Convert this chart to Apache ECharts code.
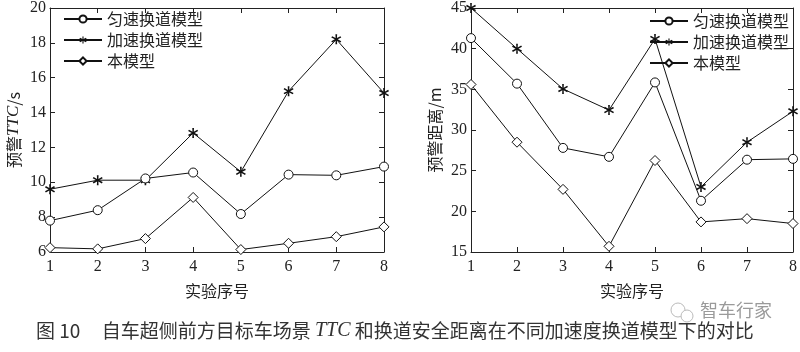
<!DOCTYPE html>
<html>
<head>
<meta charset="utf-8">
<script src="https://cdn.jsdelivr.net/npm/echarts@6/dist/echarts.min.js"></script>
<style>
  html, body { margin: 0; padding: 0; background: #fff; }
  #main { width: 800px; height: 352px; }
</style>
</head>
<body>
<div id="main"></div>
<script>
// 实验序号
const runs = [1, 2, 3, 4, 5, 6, 7, 8];
const seriesNames = ['匀速换道模型', '加速换道模型', '本模型'];

// 左图：预警 TTC / s
const ttcUniform = [7.8, 8.4, 10.22, 10.56, 8.18, 10.44, 10.4, 10.9];
const ttcAccel = [9.6, 10.12, 10.12, 12.83, 10.6, 15.23, 18.2, 15.12];
const ttcOurs = [6.25, 6.18, 6.77, 9.13, 6.14, 6.5, 6.88, 7.44];

// 右图：预警距离 / m
const distUniform = [41.3, 35.7, 27.8, 26.7, 35.85, 21.3, 26.35, 26.45];
const distAccel = [45, 40, 35.05, 32.45, 41.2, 23.0, 28.5, 32.3];
const distOurs = [35.6, 28.5, 22.7, 15.7, 26.25, 18.7, 19.1, 18.5];

const SERIF = "'Liberation Serif', 'Noto Sans CJK SC', serif";
const CJK = "'Noto Sans CJK SC', 'Liberation Serif', serif";
// 星号标记（粗一点的六臂星）
const STAR = 'path://M8.6,0 L11.4,0 L11.1,6.6 L16.8,3.1 L18.2,5.5 L12.4,8.8 L18.2,12.1 L16.8,14.5 L11.1,11 L11.4,17.6 L8.6,17.6 L8.9,11 L3.2,14.5 L1.8,12.1 L7.6,8.8 L1.8,5.5 L3.2,3.1 L8.9,6.6 Z';
const symbols = ['circle', STAR, 'diamond'];
const symbolSizes = [9, 10, 10];
const itemStyles = [
  { color: '#fff', borderColor: '#111', borderWidth: 1 },
  { color: '#111', borderWidth: 0 },
  { color: '#fff', borderColor: '#111', borderWidth: 1 }
];

const chart = echarts.init(document.getElementById('main'));

function xAxes(gridIndex) {
  const base = {
    type: 'value', gridIndex, min: 1, max: 8, interval: 1,
    axisLine: { show: true, lineStyle: { color: '#222', width: 1 } },
    axisTick: { show: true, inside: true, length: 5, lineStyle: { color: '#222' } },
    splitLine: { show: false }
  };
  return [
    Object.assign({}, base, {
      position: 'bottom',
      name: '实验序号', nameLocation: 'middle', nameGap: 31,
      nameTextStyle: { fontFamily: CJK, fontSize: 16, color: '#222' },
      axisLabel: { fontFamily: SERIF, fontSize: 16, color: '#222', margin: 7 }
    }),
    Object.assign({}, base, { position: 'top', axisLabel: { show: false } })
  ];
}

function yAxes(gridIndex, min, max, interval, name) {
  const base = {
    type: 'value', gridIndex, min, max, interval,
    axisLine: { show: true, lineStyle: { color: '#222', width: 1 } },
    axisTick: { show: true, inside: true, length: 5, lineStyle: { color: '#222' } },
    splitLine: { show: false }
  };
  return [
    Object.assign({}, base, {
      position: 'left',
      name, nameLocation: 'middle', nameGap: 28,
      nameTextStyle: {
        fontFamily: CJK, fontSize: 16, color: '#222',
        rich: { i: { fontFamily: SERIF, fontStyle: 'italic', fontSize: 17, color: '#222' } }
      },
      axisLabel: { fontFamily: SERIF, fontSize: 16, color: '#222', margin: 4 }
    }),
    Object.assign({}, base, { position: 'right', axisLabel: { show: false } })
  ];
}

function lines(values, axisIdx) {
  return values.map((arr, k) => ({
    name: seriesNames[k],
    type: 'line',
    xAxisIndex: axisIdx, yAxisIndex: axisIdx,
    data: runs.map((r, i) => [r, arr[i]]),
    symbol: symbols[k],
    symbolSize: symbolSizes[k],
    showAllSymbol: true,
    lineStyle: { color: '#111', width: 1 },
    itemStyle: itemStyles[k],
    z: 3 - k,
    animation: false
  }));
}

const legendBase = {
  orient: 'vertical', itemWidth: 38, itemHeight: 9, itemGap: 5,
  textStyle: { fontFamily: CJK, fontSize: 16, color: '#222' },
  data: seriesNames
};

chart.setOption({
  animation: false,
  backgroundColor: '#fff',
  grid: [
    { left: 50, right: 416, top: 4, bottom: 100 },
    { left: 471, right: 7, top: 5, bottom: 100 }
  ],
  xAxis: [...xAxes(0), ...xAxes(1)],
  yAxis: [
    ...yAxes(0, 6, 20, 2, '预警{i|TTC}/s'),
    ...yAxes(1, 15, 45, 5, '预警距离/m')
  ],
  legend: [
    Object.assign({}, legendBase, { left: 58, top: 6 }),
    Object.assign({}, legendBase, { right: 6, top: 8 })
  ],
  series: [
    ...lines([ttcUniform, ttcAccel, ttcOurs], 0),
    ...lines([distUniform, distAccel, distOurs], 2)
  ],
  graphic: [
    {
      type: 'text', left: 36, top: 321,
      style: {
        text: '图 10     自车超侧前方目标车场景 {i|TTC} 和换道安全距离在不同加速度换道模型下的对比',
        font: "19px 'Noto Sans CJK SC'", fill: '#333',
        rich: { i: { fontFamily: SERIF, fontStyle: 'italic', fontSize: 20, fill: '#333' } }
      }
    },
    {
      type: 'text', left: 700, top: 301,
      style: { text: '智车行家', font: "18px 'Noto Sans CJK SC'", fill: '#9a9a9a' }
    },
    {
      type: 'circle', shape: { cx: 678, cy: 310, r: 7 },
      style: { fill: 'none', stroke: '#bbb', lineWidth: 1 }
    },
    {
      type: 'circle', shape: { cx: 687, cy: 316, r: 6 },
      style: { fill: '#fff', stroke: '#bbb', lineWidth: 1 }
    }
  ]
});
</script>
</body>
</html>
